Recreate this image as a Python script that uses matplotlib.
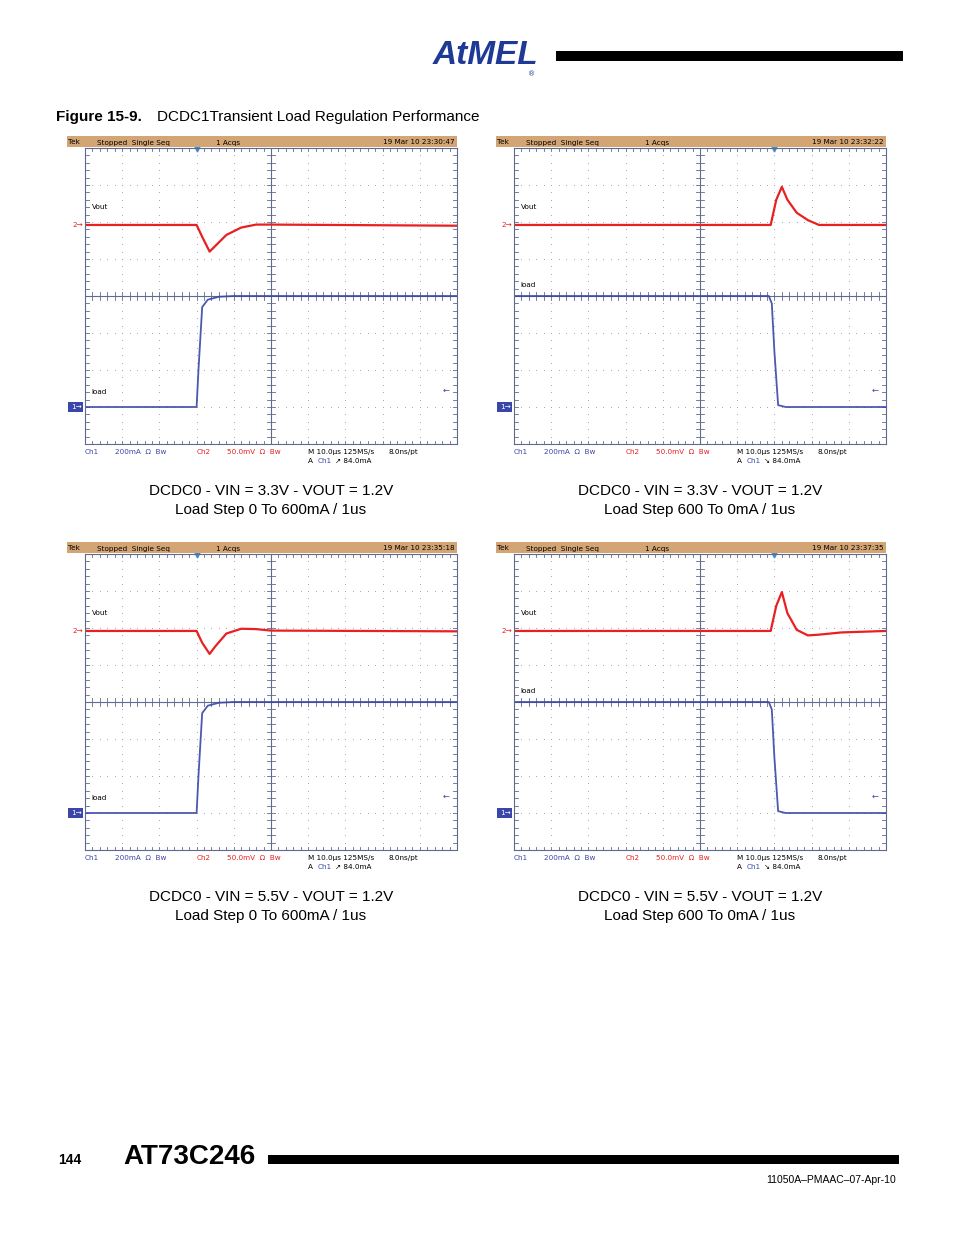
import matplotlib
matplotlib.use("Agg")
import matplotlib.pyplot as plt
from matplotlib.patches import Rectangle

W, H = 954, 1235
fig = plt.figure(figsize=(9.54, 12.35), dpi=100)
fig.patch.set_facecolor("white")

# --- data (divisions: time 0..10, vertical 0..8) ---
vout_t = [
    [0, 3.0, 3.15, 3.35, 3.5, 3.8, 4.2, 4.6, 5.0, 10],
    [0, 6.9, 7.05, 7.2, 7.35, 7.6, 7.9, 8.2, 8.5, 10],
    [0, 3.0, 3.15, 3.35, 3.5, 3.8, 4.2, 4.6, 5.0, 10],
    [0, 6.9, 7.05, 7.2, 7.35, 7.6, 7.9, 8.2, 8.8, 10],
]
vout_v = [
    [5.92, 5.92, 5.6, 5.2, 5.35, 5.65, 5.85, 5.93, 5.93, 5.90],
    [5.92, 5.92, 6.6, 6.95, 6.6, 6.25, 6.05, 5.92, 5.92, 5.92],
    [5.92, 5.92, 5.6, 5.3, 5.5, 5.85, 5.98, 5.97, 5.93, 5.91],
    [5.92, 5.92, 6.6, 6.97, 6.4, 5.95, 5.80, 5.82, 5.88, 5.92],
]
load_t = [
    [0, 3.0, 3.05, 3.15, 3.3, 3.6, 4.0, 10],
    [0, 6.85, 6.93, 7.0, 7.1, 7.3, 10],
    [0, 3.0, 3.05, 3.15, 3.3, 3.6, 4.0, 10],
    [0, 6.85, 6.93, 7.0, 7.1, 7.3, 10],
]
load_v = [
    [1.0, 1.0, 2.0, 3.7, 3.9, 3.98, 4.0, 4.0],
    [4.0, 4.0, 3.8, 2.5, 1.05, 1.0, 1.0],
    [1.0, 1.0, 2.0, 3.7, 3.9, 3.98, 4.0, 4.0],
    [4.0, 4.0, 3.8, 2.5, 1.05, 1.0, 1.0],
]
timestamps = ["19 Mar 10 23:30:47", "19 Mar 10 23:32:22",
              "19 Mar 10 23:35:18", "19 Mar 10 23:37:35"]
trig_div = [3.0, 7.0, 3.0, 7.0]
trig_slope = ["\u2197", "\u2198", "\u2197", "\u2198"]
caption1 = ["DCDC0 - VIN = 3.3V - VOUT = 1.2V", "DCDC0 - VIN = 3.3V - VOUT = 1.2V",
            "DCDC0 - VIN = 5.5V - VOUT = 1.2V", "DCDC0 - VIN = 5.5V - VOUT = 1.2V"]
caption2 = ["Load Step 0 To 600mA / 1us", "Load Step 600 To 0mA / 1us",
            "Load Step 0 To 600mA / 1us", "Load Step 600 To 0mA / 1us"]
load_label_y = [1.35, 4.25, 1.35, 4.25]

origins = [(85, 148), (514, 148), (85, 554), (514, 554)]
PW, PH = 372, 296
RED = "#E82020"
BLUE = "#3A46A8"
GRID = "#5E6A8E"
DOT = "#9AA2BA"
FS = 5.2

def fx(px):
    return px / W
def fy(py):
    return 1 - py / H
def ftext(x, y, s, **kw):
    fig.text(fx(x), fy(y), s, **kw)

for i, (ox, oy) in enumerate(origins):
    ax = fig.add_axes([fx(ox), fy(oy + PH), PW / W, PH / H])
    ax.set_xlim(0, 10)
    ax.set_ylim(0, 8)
    ax.set_xticks([]); ax.set_yticks([])
    for s in ax.spines.values():
        s.set_color(GRID); s.set_linewidth(0.8)
    for k in range(1, 10):
        ax.plot([k] * 41, [j * 0.2 for j in range(41)], ls="none", marker="s",
                ms=0.6, mew=0, color=DOT)
    for k in range(1, 8):
        ax.plot([j * 0.2 for j in range(51)], [k] * 51, ls="none", marker="s",
                ms=0.6, mew=0, color=DOT)
    ax.axvline(5, color=GRID, lw=0.8)
    ax.axhline(4, color=GRID, lw=0.8)
    for j in range(1, 50):
        x = j * 0.2
        ax.plot([x, x], [3.9, 4.1], color=GRID, lw=0.6)
        ax.plot([x, x], [0, 0.08], color=GRID, lw=0.6)
        ax.plot([x, x], [8, 7.92], color=GRID, lw=0.6)
    for j in range(1, 40):
        y = j * 0.2
        ax.plot([4.88, 5.12], [y, y], color=GRID, lw=0.6)
        ax.plot([0, 0.1], [y, y], color=GRID, lw=0.6)
        ax.plot([10, 9.9], [y, y], color=GRID, lw=0.6)
    ax.plot(load_t[i], load_v[i], color=BLUE, lw=1.3, alpha=0.9)
    ax.plot(vout_t[i], vout_v[i], color=RED, lw=1.6)
    ax.text(0.18, 6.35, "Vout", fontsize=FS)
    ax.text(0.18, load_label_y[i], "load", fontsize=FS)
    ax.text(9.72, 1.45, "\u2190", fontsize=6, color=BLUE, ha="center", va="center")
    ax.plot([trig_div[i]], [7.97], marker="v", ms=3.5, color="#3B8ED8", clip_on=False)

    # header bar
    fig.patches.append(Rectangle((fx(ox - 18), fy(oy - 1)), (PW + 18) / W, 11 / H,
                                 transform=fig.transFigure, facecolor="#D4A574",
                                 edgecolor="none"))
    hy = oy - 5.5
    ftext(ox - 17, hy, "Tek", fontsize=FS, va="center")
    ftext(ox + 12, hy, "Stopped  Single Seq", fontsize=FS, va="center")
    ftext(ox + 131, hy, "1 Acqs", fontsize=FS, va="center")
    ftext(ox + PW - 2, hy, timestamps[i], fontsize=FS, va="center", ha="right")

    # channel markers
    y2 = oy + PH * (1 - 5.92 / 8)
    ftext(ox - 13, y2, "2\u2192", fontsize=FS, color=RED, va="center")
    y1 = oy + PH * (1 - 1.0 / 8)
    fig.patches.append(Rectangle((fx(ox - 17), fy(y1 + 5)), 15 / W, 10 / H,
                                 transform=fig.transFigure, facecolor="#3A46A8",
                                 edgecolor="none"))
    ftext(ox - 14, y1, "1\u2192", fontsize=FS, color="white", va="center")

    # footer
    fy1 = oy + PH + 8
    ftext(ox, fy1, "Ch1", fontsize=FS, color=BLUE, va="center")
    ftext(ox + 30, fy1, "200mA  \u03a9  Bw", fontsize=FS, color=BLUE, va="center")
    ftext(ox + 112, fy1, "Ch2", fontsize=FS, color=RED, va="center")
    ftext(ox + 142, fy1, "50.0mV  \u03a9  Bw", fontsize=FS, color=RED, va="center")
    ftext(ox + 223, fy1, "M 10.0\u00b5s 125MS/s", fontsize=FS, va="center")
    ftext(ox + 304, fy1, "8.0ns/pt", fontsize=FS, va="center")
    ftext(ox + 223, fy1 + 9, "A", fontsize=FS, va="center")
    ftext(ox + 233, fy1 + 9, "Ch1", fontsize=FS, color=BLUE, va="center")
    ftext(ox + 250, fy1 + 9, trig_slope[i] + " 84.0mA", fontsize=FS, va="center")

    cx = ox + PW / 2
    ftext(cx, oy + PH + 47, caption1[i], fontsize=11, ha="center", va="center",
          family="Liberation Sans")
    ftext(cx, oy + PH + 66, caption2[i], fontsize=11, ha="center", va="center",
          family="Liberation Sans")

# page header
ftext(486, 56, "AtMEL", fontsize=24, fontweight="bold", fontstyle="italic",
      color="#1E3A96", ha="center", va="center", family="Liberation Sans")
ftext(528, 74, "\u00ae", fontsize=5, color="#1E3A96", va="center")
fig.patches.append(Rectangle((fx(556), fy(61)), 347 / W, 10 / H,
                             transform=fig.transFigure, facecolor="black"))
ftext(56, 117, "Figure 15-9.", fontsize=11, fontweight="bold", va="center",
      family="Liberation Sans")
ftext(157, 117, "DCDC1Transient Load Regulation Performance", fontsize=11,
      va="center", family="Liberation Sans")

# page footer
ftext(58, 1160, "144", fontsize=10, fontweight="bold", va="center",
      family="Liberation Sans")
ftext(123, 1157, "AT73C246", fontsize=20, fontweight="bold", va="center",
      family="Liberation Sans")
fig.patches.append(Rectangle((fx(268), fy(1164)), 631 / W, 9 / H,
                             transform=fig.transFigure, facecolor="black"))
ftext(896, 1180, "11050A\u2013PMAAC\u201307-Apr-10", fontsize=7.5, ha="right",
      va="center", family="Liberation Sans")

fig.savefig("out.png", dpi=100)
